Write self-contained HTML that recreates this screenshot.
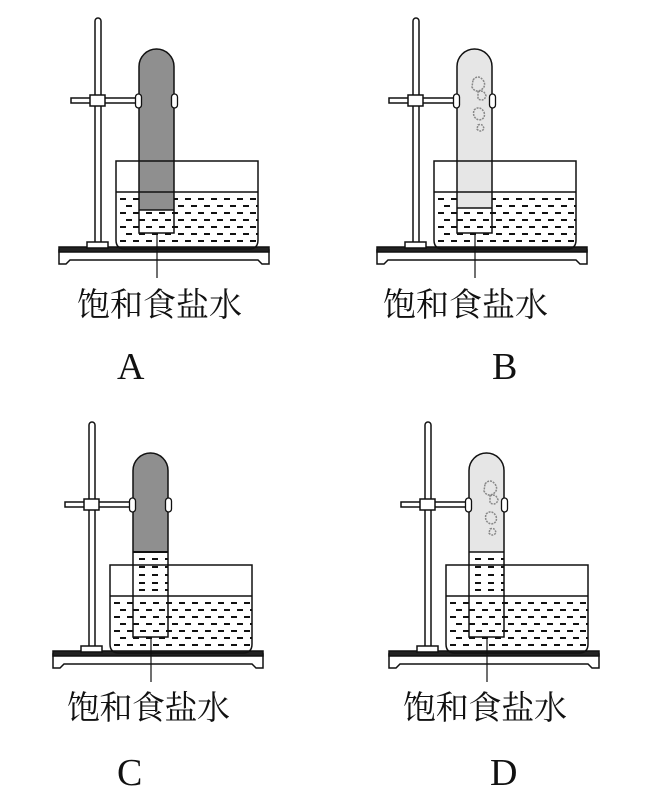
<!DOCTYPE html>
<html><head><meta charset="utf-8"><style>
html,body{margin:0;padding:0;background:#fff;}
svg{display:block;}
.lab{font-family:"Liberation Serif","Noto Serif CJK SC",serif;font-size:33px;fill:#111;}
.let{font-family:"Liberation Serif",serif;font-size:38px;fill:#111;}
</style></head><body>
<svg width="657" height="797" viewBox="0 0 657 797" xmlns="http://www.w3.org/2000/svg">
<defs>
<clipPath id="trc"><path d="M116,193 V240 Q116,249 125,249 H249 Q258,249 258,240 V193 Z"/></clipPath>
<g id="stand" stroke="#111" stroke-width="1.5" fill="#fff">
  <polygon points="59,250 269,250 269,264 262,264 258,260 70,260 66,264 59,264"/>
  <rect x="59" y="247" width="210" height="5" fill="#222"/>
  <rect x="95" y="18" width="6" height="228" rx="3"/>
  <rect x="87" y="242" width="21" height="6"/>
  <rect x="71" y="98" width="68" height="5"/>
  <rect x="90" y="95" width="15" height="11"/>
</g>
<g id="dashes" stroke="#111" fill="none">
  <g clip-path="url(#trc)" stroke-width="2" stroke-dasharray="6,7">
    <line x1="120" y1="199" x2="258" y2="199"/>
    <line x1="126" y1="206" x2="258" y2="206"/>
    <line x1="120" y1="213" x2="258" y2="213"/>
    <line x1="126" y1="220" x2="258" y2="220"/>
    <line x1="120" y1="227" x2="258" y2="227"/>
    <line x1="126" y1="234" x2="258" y2="234"/>
    <line x1="120" y1="241" x2="258" y2="241"/>
  </g>
</g>
<g id="trough" stroke="#111" fill="none">
  <path d="M116,161 V240 Q116,249 125,249 H249 Q258,249 258,240 V161 Z" stroke-width="1.5"/>
  <line x1="116" y1="192" x2="258" y2="192" stroke-width="1.5"/>
  <line x1="157" y1="233" x2="157" y2="278" stroke-width="1.2"/>
</g>
<g id="pads" stroke="#111" stroke-width="1.3" fill="#fff">
  <rect x="135.5" y="94" width="6" height="14" rx="3"/>
  <rect x="171.5" y="94" width="6" height="14" rx="3"/>
</g>
<g id="blobs" fill="none" stroke="#888" stroke-width="1.5" stroke-dasharray="2,1">
  <path d="M155,80 q5,-6 10,0 q4,6 -2,10 q-6,3 -9,-3 z M160,92 q6,-3 8,4 q-2,6 -8,3 z M156,110 q6,-5 10,2 q2,7 -5,8 q-7,-2 -5,-10 z M160,125 q5,-2 6,4 q-4,4 -7,0z"/>
</g>
</defs>

<!-- A -->
<g>
  <use href="#stand"/>
  <use href="#dashes"/>
  <path d="M139,210 V66.5 A17.5,17.5 0 0 1 174,66.5 V210 Z" fill="#8f8f8f"/>
  <line x1="139" y1="210" x2="174" y2="210" stroke="#111" stroke-width="1.5"/>
  <path d="M139,233 V66.5 A17.5,17.5 0 0 1 174,66.5 V233 Z" fill="none" stroke="#111" stroke-width="1.5"/>
  <use href="#trough"/>
  <use href="#pads"/>
</g>
<!-- B -->
<g transform="translate(318,0)">
  <use href="#stand"/>
  <use href="#dashes"/>
  <path d="M139,208 V66.5 A17.5,17.5 0 0 1 174,66.5 V208 Z" fill="#e6e6e6"/>
  <use href="#blobs"/>
  <line x1="139" y1="208" x2="174" y2="208" stroke="#111" stroke-width="1.5"/>
  <path d="M139,233 V66.5 A17.5,17.5 0 0 1 174,66.5 V233 Z" fill="none" stroke="#111" stroke-width="1.5"/>
  <use href="#trough"/>
  <use href="#pads"/>
</g>
<!-- C -->
<g transform="translate(-6,404)">
  <use href="#stand"/>
  <use href="#dashes"/>
  <path d="M139,148 V66.5 A17.5,17.5 0 0 1 174,66.5 V148 Z" fill="#8f8f8f"/>
  <line x1="139" y1="148" x2="174" y2="148" stroke="#111" stroke-width="2"/>
  <g stroke="#111" stroke-width="2" stroke-dasharray="6,7">
    <line x1="145" y1="155" x2="174" y2="155"/>
    <line x1="145" y1="163" x2="174" y2="163"/>
    <line x1="145" y1="171" x2="174" y2="171"/>
    <line x1="145" y1="179" x2="174" y2="179"/>
    <line x1="145" y1="186" x2="174" y2="186"/>
  </g>
  <path d="M139,233 V66.5 A17.5,17.5 0 0 1 174,66.5 V233 Z" fill="none" stroke="#111" stroke-width="1.5"/>
  <use href="#trough"/>
  <use href="#pads"/>
</g>
<!-- D -->
<g transform="translate(330,404)">
  <use href="#stand"/>
  <use href="#dashes"/>
  <path d="M139,148 V66.5 A17.5,17.5 0 0 1 174,66.5 V148 Z" fill="#e6e6e6"/>
  <use href="#blobs"/>
  <line x1="139" y1="148" x2="174" y2="148" stroke="#111" stroke-width="1.5"/>
  <g stroke="#111" stroke-width="2" stroke-dasharray="6,7">
    <line x1="145" y1="155" x2="174" y2="155"/>
    <line x1="145" y1="163" x2="174" y2="163"/>
    <line x1="145" y1="171" x2="174" y2="171"/>
    <line x1="145" y1="179" x2="174" y2="179"/>
    <line x1="145" y1="186" x2="174" y2="186"/>
  </g>
  <path d="M139,233 V66.5 A17.5,17.5 0 0 1 174,66.5 V233 Z" fill="none" stroke="#111" stroke-width="1.5"/>
  <use href="#trough"/>
  <use href="#pads"/>
</g>

<text class="lab" x="77" y="316" textLength="165">饱和食盐水</text>
<text class="lab" x="383" y="316" textLength="165">饱和食盐水</text>
<text class="lab" x="67" y="719" textLength="163">饱和食盐水</text>
<text class="lab" x="403" y="719" textLength="164">饱和食盐水</text>
<text class="let" x="117" y="379">A</text>
<text class="let" x="492" y="379">B</text>
<text class="let" x="117" y="785">C</text>
<text class="let" x="490" y="785">D</text>
</svg>
</body></html>
